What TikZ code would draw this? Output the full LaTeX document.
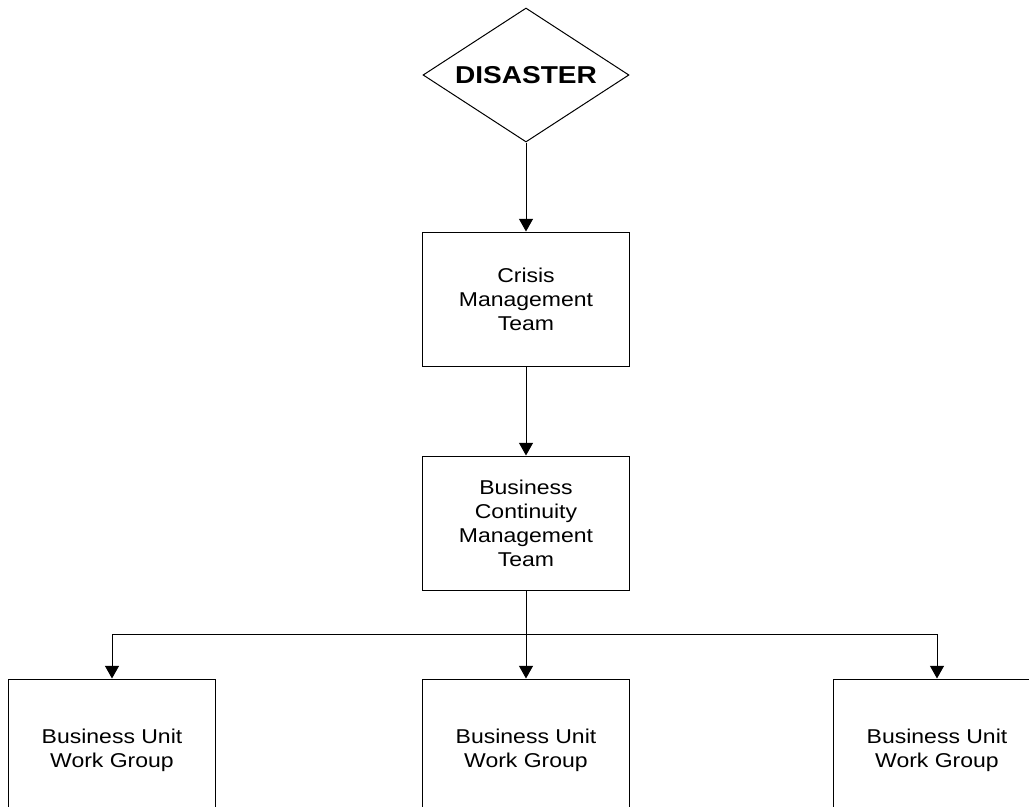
\documentclass[tikz,border=0pt]{standalone}
\usepackage{fontspec}
\setmainfont{Liberation Sans}[FakeStretch=1.15]
\usetikzlibrary{shapes.geometric, arrows.meta, calc}
\tikzstyle{event} = [diamond, aspect=1.54, minimum width=154.5pt, minimum height=100.5pt, inner sep=0pt, text centered, draw=black, line width=0.75pt, font=\fontsize{18.3}{22}\selectfont\bfseries]
\tikzstyle{team} = [rectangle, minimum width=155pt, minimum height=100.5pt, align=center, draw=black, line width=0.75pt, font=\fontsize{15}{18}\selectfont]
\tikzstyle{unit} = [team, minimum height=106.5pt]
\tikzstyle{arrow} = [line width=0.75pt,-{Triangle[width=10.5pt,length=9.5pt]}]

\begin{document}
\begin{tikzpicture}[x=0.75pt, y=-0.75pt, node distance=168pt]

    \useasboundingbox (0,0) rectangle (1029,807);

    \node (disaster) [event] at (526,75) {DISASTER};
    \node (crisis) [team, below of=disaster] {Crisis\\Management\\Team};
    \node (bcm) [team, below of=crisis] {Business\\Continuity\\Management\\Team};
    \node (unit2) [unit, below of=bcm, yshift=-2.25pt] {Business Unit\\Work Group};
    \node (unit1) [unit, left of=unit2, xshift=-142.5pt] {Business Unit\\Work Group};
    \node (unit3) [unit, right of=unit2, xshift=140.25pt] {Business Unit\\Work Group};
    \coordinate (bus) at ($(bcm.south)!0.5!(unit2.north)$);

    \draw [arrow] (disaster.south) -- (crisis.north);
    \draw [arrow] (crisis.south) -- (bcm.north);
    \draw [arrow] (bcm.south) -- (unit2.north);
    \draw [arrow] (bus) -| (unit1.north);
    \draw [arrow] (bus) -| (unit3.north);

\end{tikzpicture}
\end{document}
